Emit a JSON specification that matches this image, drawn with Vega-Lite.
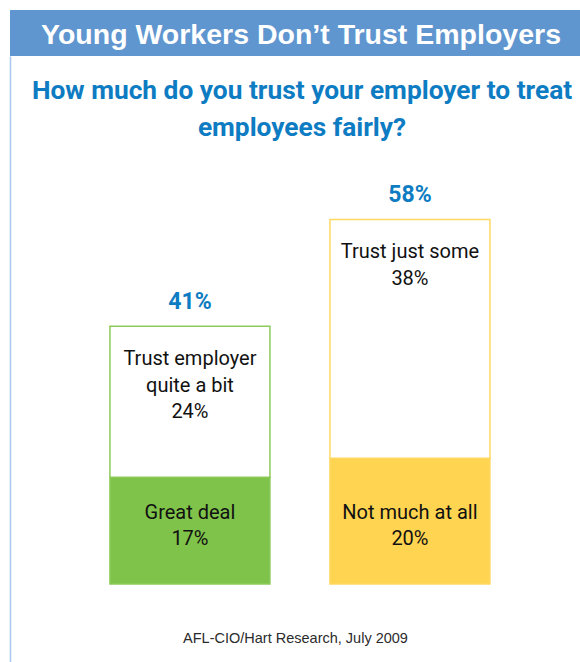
{
  "$schema": "https://vega.github.io/schema/vega-lite/v6.json",
  "padding": {"left": 10, "top": 10, "right": 0, "bottom": 0},
  "background": "white",
  "spacing": 0,
  "config": {"view": {"stroke": null}, "axisY": {"minExtent": 0, "maxExtent": 0}},
  "vconcat": [
    {
      "width": 570,
      "height": 46,
      "view": {"fill": "#6096cf", "stroke": null},
      "data": {"values": [{"title": "Young Workers Don’t Trust Employers"}]},
      "mark": {"type": "text", "font": "Liberation Sans", "fontWeight": "bold", "fontSize": 28.5, "color": "white", "dx": 6, "dy": 2, "baseline": "middle", "align": "center"},
      "encoding": {"text": {"field": "title"}}
    },
    {
      "width": 570,
      "height": 606,
      "title": {
        "text": ["How much do you trust your employer to treat", "employees fairly?"],
        "font": "Roboto",
        "fontWeight": "bold",
        "fontSize": 26.3,
        "lineHeight": 37,
        "color": "#0e7cc2",
        "anchor": "middle",
        "frame": "group",
        "baseline": "top",
        "offset": -85,
        "dx": 7
      },
      "data": {
        "values": [
          {"group": "Trust", "segment": "Great deal", "pos": "bottom", "order": 1, "value": 0.17, "label": "Great deal\n17%"},
          {"group": "Trust", "segment": "Trust employer quite a bit", "pos": "top", "order": 2, "value": 0.24, "label": "Trust employer\nquite a bit\n24%"},
          {"group": "Distrust", "segment": "Not much at all", "pos": "bottom", "order": 1, "value": 0.20, "label": "Not much at all\n20%"},
          {"group": "Distrust", "segment": "Trust just some", "pos": "top", "order": 2, "value": 0.38, "label": "Trust just some\n38%"}
        ]
      },
      "transform": [
        {"stack": "value", "groupby": ["group"], "sort": [{"field": "order", "order": "ascending"}], "as": ["y0", "y1"]}
      ],
      "encoding": {
        "x": {
          "field": "group",
          "type": "nominal",
          "sort": ["Trust", "Distrust"],
          "scale": {"type": "band", "paddingInner": 0.2727, "paddingOuter": 0.4318, "align": 0.526},
          "axis": {
            "title": "AFL-CIO/Hart Research, July 2009",
            "domain": false,
            "ticks": false,
            "labels": false,
            "grid": false,
            "offset": -31,
            "titlePadding": 0,
            "titleFont": "Liberation Sans",
            "titleFontSize": 14.5,
            "titleFontWeight": "normal",
            "titleColor": "#2b2b2b"
          }
        }
      },
      "layer": [
        {
          "mark": {"type": "bar", "strokeWidth": 1.5},
          "encoding": {
            "y": {
              "field": "y1",
              "type": "quantitative",
              "scale": {"domain": [-0.1241, 0.8401], "nice": false, "zero": false},
              "axis": {"domain": true, "domainColor": "#a9c6ee", "domainWidth": 1.5, "ticks": false, "labels": false, "grid": false, "title": null}
            },
            "y2": {"field": "y0"},
            "fill": {
              "field": "segment",
              "type": "nominal",
              "scale": {"domain": ["Great deal", "Trust employer quite a bit", "Not much at all", "Trust just some"], "range": ["#80c34a", "#ffffff", "#ffd450", "#ffffff"]},
              "legend": null
            },
            "stroke": {
              "field": "segment",
              "type": "nominal",
              "scale": {"domain": ["Great deal", "Trust employer quite a bit", "Not much at all", "Trust just some"], "range": ["#8ccb5a", "#8ccb5a", "#ffd862", "#ffd862"]},
              "legend": null
            }
          }
        },
        {
          "transform": [{"filter": "datum.pos === 'top'"}],
          "mark": {"type": "text", "font": "Roboto", "fontSize": 20, "lineHeight": 26.5, "color": "#111111", "baseline": "top", "dy": 23, "lineBreak": "\n"},
          "encoding": {
            "y": {"field": "y1", "type": "quantitative", "scale": {"domain": [-0.1241, 0.8401], "nice": false, "zero": false}, "axis": {"domain": true, "domainColor": "#a9c6ee", "domainWidth": 1.5, "ticks": false, "labels": false, "grid": false, "title": null}},
            "text": {"field": "label"}
          }
        },
        {
          "transform": [{"filter": "datum.pos === 'bottom'"}],
          "mark": {"type": "text", "font": "Roboto", "fontSize": 20, "lineHeight": 26.5, "color": "#111111", "baseline": "middle", "dy": -71.5, "lineBreak": "\n"},
          "encoding": {
            "y": {"field": "y0", "type": "quantitative", "scale": {"domain": [-0.1241, 0.8401], "nice": false, "zero": false}, "axis": {"domain": true, "domainColor": "#a9c6ee", "domainWidth": 1.5, "ticks": false, "labels": false, "grid": false, "title": null}},
            "text": {"field": "label"}
          }
        },
        {
          "transform": [{"aggregate": [{"op": "sum", "field": "value", "as": "total"}], "groupby": ["group"]}],
          "mark": {"type": "text", "font": "Roboto", "fontWeight": "bold", "fontSize": 23, "color": "#0e7cc2", "baseline": "middle", "dy": -24},
          "encoding": {
            "y": {"field": "total", "type": "quantitative", "scale": {"domain": [-0.1241, 0.8401], "nice": false, "zero": false}, "axis": {"domain": true, "domainColor": "#a9c6ee", "domainWidth": 1.5, "ticks": false, "labels": false, "grid": false, "title": null}},
            "text": {"field": "total", "type": "quantitative", "format": ".0%"}
          }
        }
      ]
    }
  ]
}
